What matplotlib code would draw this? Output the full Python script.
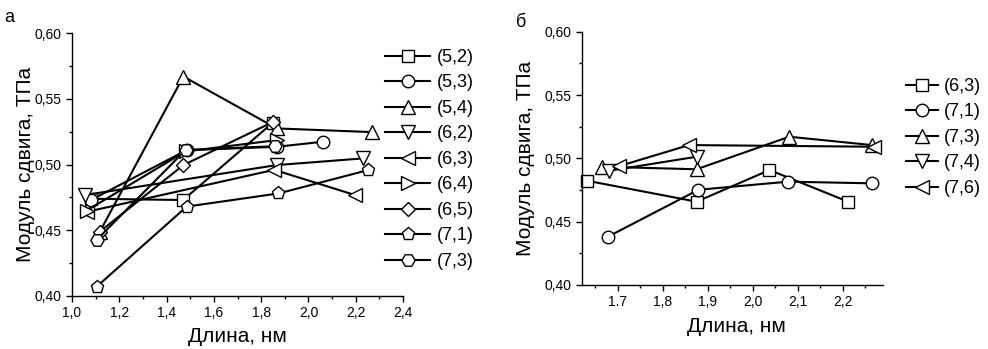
import matplotlib
matplotlib.use("Agg")
import matplotlib.pyplot as plt
from matplotlib.ticker import MultipleLocator, FixedLocator, FixedFormatter, FuncFormatter

plt.rcParams["font.family"] = ["Liberation Sans", "DejaVu Sans"]

# panel a: shear modulus vs length
labels_a = ["(5,2)", "(5,3)", "(5,4)", "(6,2)", "(6,3)", "(6,4)", "(6,5)", "(7,1)", "(7,3)"]
len_52 = [1.08, 1.47, 1.85]
mod_52 = [0.474, 0.473, 0.532]
len_53 = [1.08, 1.485, 1.865, 2.063]
mod_53 = [0.473, 0.511, 0.5135, 0.5174]
len_54 = [1.118, 1.471, 1.866, 2.268]
mod_54 = [0.449, 0.567, 0.5275, 0.5247]
len_62 = [1.055, 1.866, 2.232]
mod_62 = [0.4768, 0.4996, 0.5047]
len_63 = [1.062, 1.855, 2.197]
mod_63 = [0.464, 0.496, 0.4768]
len_64 = [1.062, 1.48, 1.866]
mod_64 = [0.465, 0.510, 0.5186]
len_65 = [1.118, 1.471, 1.852]
mod_65 = [0.449, 0.4996, 0.5326]
len_71 = [1.104, 1.485, 1.873, 2.253]
mod_71 = [0.407, 0.468, 0.478, 0.4958]
len_73 = [1.104, 1.48, 1.86]
mod_73 = [0.4426, 0.511, 0.514]

# panel b
labels_b = ["(6,3)", "(7,1)", "(7,3)", "(7,4)", "(7,6)"]
len_b63 = [1.632, 1.875, 2.037, 2.212]
mod_b63 = [0.4823, 0.4658, 0.4908, 0.4658]
len_b71 = [1.677, 1.879, 2.078, 2.264]
mod_b71 = [0.438, 0.4752, 0.4816, 0.4803]
len_b73 = [1.664, 1.875, 2.081, 2.265]
mod_b73 = [0.4934, 0.4914, 0.5171, 0.5105]
len_b74 = [1.68, 1.875]
mod_b74 = [0.4902, 0.5013]
len_b76 = [1.702, 1.858, 2.27]
mod_b76 = [0.4938, 0.5105, 0.5092]
xticks_b = [1.7, 1.8, 1.9, 2.0, 2.1, 2.2]
xtick_labels_b = ["1.7", "1,8", "1,9", "2,0", "2,1", "2,2"]

series_a = [(len_52, mod_52), (len_53, mod_53), (len_54, mod_54), (len_62, mod_62),
            (len_63, mod_63), (len_64, mod_64), (len_65, mod_65), (len_71, mod_71),
            (len_73, mod_73)]
series_b = [(len_b63, mod_b63), (len_b71, mod_b71), (len_b73, mod_b73),
            (len_b74, mod_b74), (len_b76, mod_b76)]
markers_a = ["s", "o", "^", "v", "<", ">", "D", "p", "H"]
markers_b = ["s", "o", "^", "v", "<"]
msizes = {"s": 8, "o": 9, "^": 9.5, "v": 9.5, "<": 9.5, ">": 9.5, "D": 7.5, "p": 9.5, "H": 9.5}

comma = FuncFormatter(lambda v, pos: f"{v:.2f}".replace(".", ","))


def style_axes(ax):
    for side in ("top", "right"):
        ax.spines[side].set_visible(False)
    for side in ("left", "bottom"):
        ax.spines[side].set_linewidth(1.0)
    ax.tick_params(which="major", direction="out", length=4.5, width=1.0, labelsize=10, pad=3)
    ax.tick_params(which="minor", direction="out", length=2.5, width=1.0)
    ax.set_ylim(0.40, 0.60)
    ax.yaxis.set_major_locator(MultipleLocator(0.05))
    ax.yaxis.set_minor_locator(MultipleLocator(0.025))
    ax.yaxis.set_major_formatter(comma)


def draw(ax, series, markers, labels):
    for (x, y), m, lab in zip(series, markers, labels):
        ax.plot(x, y, color="black", lw=1.5, marker=m, ms=msizes[m],
                mfc="white", mec="black", mew=1.0, label=lab, clip_on=False)


fig = plt.figure(figsize=(9.88, 3.49), dpi=100)
ax1 = fig.add_axes([0.0729, 0.152, 0.335, 0.753])
ax2 = fig.add_axes([0.589, 0.1834, 0.305, 0.7256])

draw(ax1, series_a, markers_a, labels_a)
style_axes(ax1)
ax1.set_xlim(1.0, 2.4)
ax1.xaxis.set_major_locator(MultipleLocator(0.2))
ax1.xaxis.set_minor_locator(MultipleLocator(0.1))
ax1.xaxis.set_major_formatter(FuncFormatter(lambda v, pos: f"{v:.1f}".replace(".", ",")))
ax1.set_xlabel("Длина, нм", fontsize=15)
ax1.set_ylabel("Модуль сдвига, ТПа", fontsize=15)
ax1.xaxis.set_label_coords(0.5, -0.12)
ax1.yaxis.set_label_coords(-0.112, 0.5)
ax1.legend(loc="upper left", bbox_to_anchor=(385 / 988, 1 - 49 / 349),
           bbox_transform=fig.transFigure, frameon=False, fontsize=13,
           handlelength=2.5, handletextpad=0.4, labelspacing=0.47,
           borderpad=0, borderaxespad=0, numpoints=1)

draw(ax2, series_b, markers_b, labels_b)
style_axes(ax2)
ax2.set_xlim(1.62, 2.29)
ax2.xaxis.set_major_locator(FixedLocator(xticks_b))
ax2.xaxis.set_major_formatter(FixedFormatter(xtick_labels_b))
ax2.xaxis.set_minor_locator(MultipleLocator(0.05))
ax2.set_xlabel("Длина, нм", fontsize=15)
ax2.set_ylabel("Модуль сдвига, ТПа", fontsize=15)
ax2.xaxis.set_label_coords(0.512, -0.125)
ax2.yaxis.set_label_coords(-0.155, 0.5)
ax2.legend(loc="upper left", bbox_to_anchor=(906 / 988, 1 - 78 / 349),
           bbox_transform=fig.transFigure, frameon=False, fontsize=13,
           handlelength=1.75, handletextpad=0.35, labelspacing=0.47,
           borderpad=0, borderaxespad=0, numpoints=1)

fig.text(0.004, 0.975, "а", fontsize=13, va="top", ha="left")
fig.text(0.522, 0.96, "б", fontsize=13, va="top", ha="left")

fig.savefig("out.png", dpi=100)
